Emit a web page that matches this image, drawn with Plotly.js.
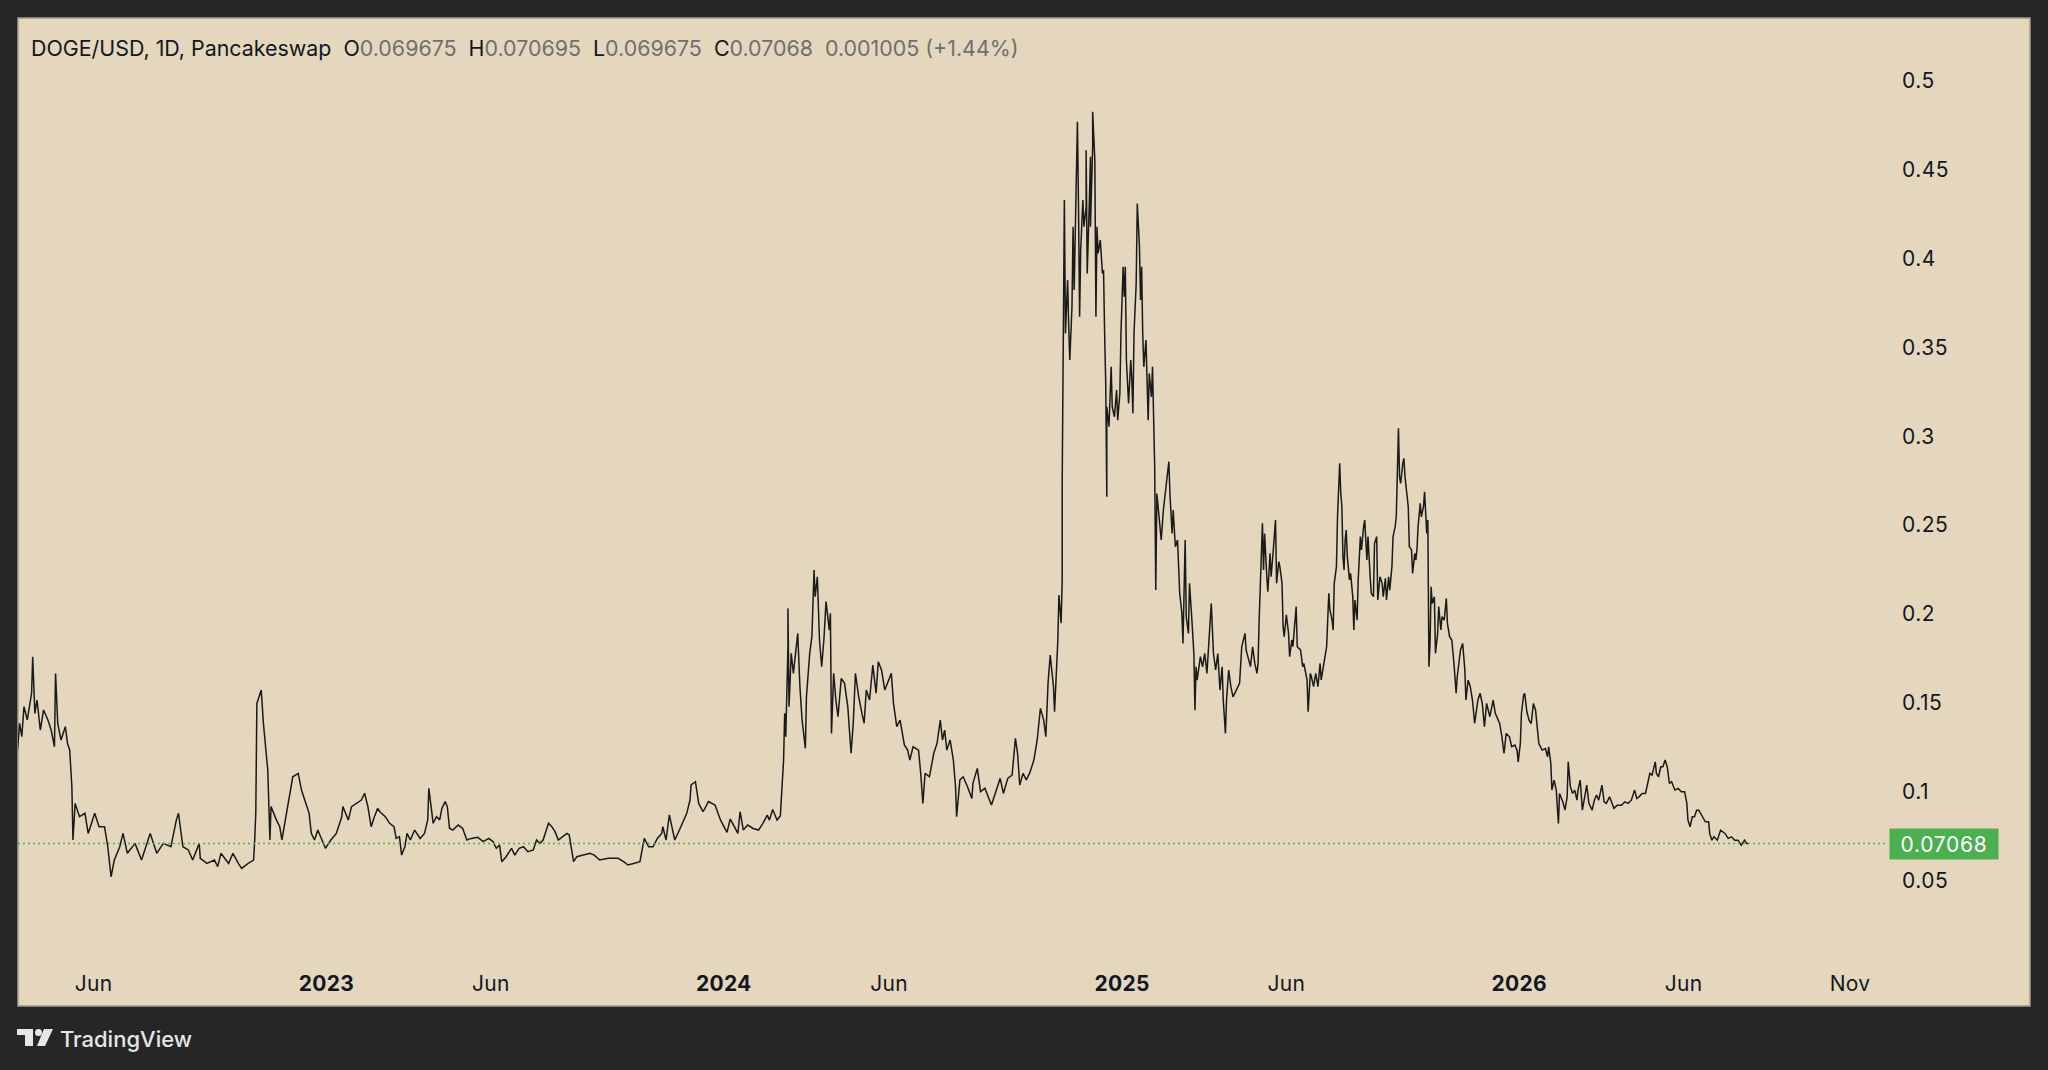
<!DOCTYPE html>
<html>
<head>
<meta charset="utf-8">
<script src="https://cdn.plot.ly/plotly-3.0.1.min.js"></script>
<style>
  html, body { margin: 0; padding: 0; background: #262626; }
  #chart { width: 2048px; height: 1070px; }
  #chart .ytick text { letter-spacing: 0.5px; }
  #chart .xtick text { letter-spacing: 0.3px; }
  #chart g.annotation[data-index="1"] text { letter-spacing: 0.7px; }
</style>
</head>
<body>
<div id="chart"></div>
<script>
// ---- Header text ----
const symbolText = "DOGE/USD, 1D, Pancakeswap";
const ohlcLabels = ["O", "H", "L", "C"];
const ohlcValues = ["0.069675", "0.070695", "0.069675", "0.07068"];
const changeText = "0.001005 (+1.44%)";

// ---- Price path: [date, price] ----
const doge2022 = [
 ["2022-03-23",0.1234],["2022-03-25",0.1384],["2022-03-27",0.1309],["2022-03-29",0.1478],["2022-04-01",0.1403],
 ["2022-04-05",0.1553],["2022-04-06",0.1759],["2022-04-08",0.1440],["2022-04-10",0.1515],["2022-04-13",0.1346],
 ["2022-04-16",0.1459],["2022-04-20",0.1403],["2022-04-23",0.1346],["2022-04-26",0.1252],["2022-04-27",0.1665],
 ["2022-04-29",0.1384],["2022-05-02",0.1290],["2022-05-06",0.1365],["2022-05-08",0.1271],["2022-05-10",0.1234],
 ["2022-05-12",0.1027],["2022-05-13",0.0727],["2022-05-15",0.0933],["2022-05-19",0.0858],["2022-05-24",0.0877],
 ["2022-05-27",0.0764],["2022-06-02",0.0877],["2022-06-06",0.0802],["2022-06-11",0.0802],["2022-06-14",0.0689],
 ["2022-06-17",0.0520],["2022-06-20",0.0614],["2022-06-25",0.0689],["2022-06-28",0.0764],["2022-07-02",0.0652],
 ["2022-07-09",0.0708],["2022-07-15",0.0614],["2022-07-19",0.0689],["2022-07-23",0.0764],["2022-07-29",0.0652],
 ["2022-08-04",0.0708],["2022-08-11",0.0689],["2022-08-16",0.0839],["2022-08-18",0.0877],["2022-08-22",0.0689],
 ["2022-08-27",0.0671],["2022-08-31",0.0614],["2022-09-06",0.0708],["2022-09-07",0.0624],["2022-09-13",0.0595],
 ["2022-09-20",0.0614],["2022-09-23",0.0577],["2022-09-26",0.0652],["2022-10-03",0.0595],["2022-10-07",0.0652],
 ["2022-10-12",0.0595],["2022-10-15",0.0567],["2022-10-21",0.0595],["2022-10-26",0.0614],["2022-10-27",0.0727],
 ["2022-10-28",0.0877],["2022-10-29",0.1496],["2022-11-02",0.1571],["2022-11-04",0.1384],["2022-11-06",0.1252],
 ["2022-11-08",0.1121],["2022-11-10",0.0727],["2022-11-11",0.0915],["2022-11-16",0.0839],["2022-11-19",0.0802],
 ["2022-11-21",0.0727],["2022-11-25",0.0877],["2022-11-28",0.0971],["2022-12-01",0.1083],["2022-12-06",0.1102],
 ["2022-12-09",0.1008],["2022-12-12",0.0952],["2022-12-16",0.0877],["2022-12-18",0.0764],["2022-12-21",0.0727],
 ["2022-12-24",0.0783],["2022-12-29",0.0708],["2022-12-31",0.0680]
];
const doge2023 = [
 ["2023-01-05",0.0727],["2023-01-10",0.0764],["2023-01-15",0.0858],["2023-01-16",0.0915],["2023-01-21",0.0839],
 ["2023-01-24",0.0915],["2023-02-02",0.0952],["2023-02-05",0.0990],["2023-02-08",0.0915],["2023-02-11",0.0802],
 ["2023-02-14",0.0858],["2023-02-17",0.0905],["2023-02-19",0.0886],["2023-02-24",0.0858],["2023-02-28",0.0821],
 ["2023-03-04",0.0802],["2023-03-06",0.0736],["2023-03-09",0.0746],["2023-03-11",0.0642],["2023-03-14",0.0689],
 ["2023-03-16",0.0764],["2023-03-19",0.0727],["2023-03-23",0.0783],["2023-03-28",0.0736],["2023-04-01",0.0764],
 ["2023-04-04",0.0840],["2023-04-05",0.1018],["2023-04-07",0.0933],["2023-04-09",0.0821],["2023-04-12",0.0858],
 ["2023-04-15",0.0840],["2023-04-17",0.0905],["2023-04-20",0.0943],["2023-04-22",0.0915],["2023-04-24",0.0793],
 ["2023-04-27",0.0783],["2023-05-02",0.0811],["2023-05-06",0.0793],["2023-05-10",0.0727],["2023-05-14",0.0736],
 ["2023-05-20",0.0742],["2023-05-25",0.0718],["2023-05-30",0.0736],["2023-06-03",0.0718],["2023-06-06",0.0680],
 ["2023-06-09",0.0699],["2023-06-11",0.0605],["2023-06-15",0.0633],["2023-06-20",0.0680],["2023-06-23",0.0642],
 ["2023-06-27",0.0680],["2023-07-01",0.0689],["2023-07-05",0.0661],["2023-07-10",0.0671],["2023-07-13",0.0727],
 ["2023-07-16",0.0708],["2023-07-19",0.0727],["2023-07-24",0.0821],["2023-07-27",0.0802],["2023-07-30",0.0774],
 ["2023-08-02",0.0727],["2023-08-06",0.0746],["2023-08-10",0.0764],["2023-08-12",0.0755],["2023-08-15",0.0652],
 ["2023-08-16",0.0605],["2023-08-19",0.0633],["2023-08-26",0.0642],["2023-08-31",0.0652],["2023-09-04",0.0642],
 ["2023-09-09",0.0614],["2023-09-17",0.0624],["2023-09-26",0.0624],["2023-10-01",0.0605],["2023-10-05",0.0586],
 ["2023-10-11",0.0596],["2023-10-16",0.0605],["2023-10-18",0.0671],["2023-10-20",0.0736],["2023-10-24",0.0689],
 ["2023-10-28",0.0689],["2023-11-01",0.0736],["2023-11-05",0.0764],["2023-11-06",0.0802],["2023-11-09",0.0727],
 ["2023-11-12",0.0868],["2023-11-15",0.0783],["2023-11-17",0.0727],["2023-11-22",0.0793],["2023-11-28",0.0877],
 ["2023-12-01",0.0952],["2023-12-02",0.1037],["2023-12-06",0.1055],["2023-12-09",0.0933],["2023-12-13",0.0886],
 ["2023-12-18",0.0943],["2023-12-24",0.0924],["2023-12-29",0.0840]
];
const doge2024 = [
 ["2024-01-04",0.0770],["2024-01-07",0.0845],["2024-01-10",0.0811],["2024-01-14",0.0764],["2024-01-16",0.0886],
 ["2024-01-19",0.0783],["2024-01-23",0.0811],["2024-01-28",0.0792],["2024-02-02",0.0783],["2024-02-06",0.0820],
 ["2024-02-10",0.0867],["2024-02-12",0.0839],["2024-02-15",0.0899],["2024-02-19",0.0839],["2024-02-22",0.0862],
 ["2024-02-23",0.0989],["2024-02-25",0.1177],["2024-02-26",0.1440],["2024-02-27",0.1309],["2024-02-29",0.1815],
 ["2024-02-29",0.2031],["2024-03-01",0.1477],["2024-03-03",0.1778],["2024-03-05",0.1665],["2024-03-07",0.1797],
 ["2024-03-09",0.1890],["2024-03-11",0.1590],["2024-03-13",0.1402],["2024-03-16",0.1243],["2024-03-17",0.1534],
 ["2024-03-20",0.1778],["2024-03-22",0.1872],["2024-03-24",0.2247],["2024-03-25",0.2097],["2024-03-27",0.2209],
 ["2024-03-29",0.1853],["2024-03-31",0.1703],["2024-04-02",0.1853],["2024-04-04",0.2069],["2024-04-07",0.1909],
 ["2024-04-08",0.2003],["2024-04-09",0.1327],["2024-04-11",0.1665],["2024-04-13",0.1515],["2024-04-15",0.1421],
 ["2024-04-18",0.1637],["2024-04-21",0.1609],["2024-04-24",0.1477],["2024-04-27",0.1215],["2024-04-29",0.1384],
 ["2024-05-01",0.1665],["2024-05-04",0.1534],["2024-05-07",0.1440],["2024-05-09",0.1384],["2024-05-11",0.1571],
 ["2024-05-14",0.1515],["2024-05-17",0.1712],["2024-05-20",0.1553],["2024-05-22",0.1731],["2024-05-25",0.1684],
 ["2024-05-28",0.1571],["2024-06-01",0.1628],["2024-06-03",0.1665],["2024-06-05",0.1496],["2024-06-08",0.1365],
 ["2024-06-11",0.1402],["2024-06-15",0.1262],["2024-06-18",0.1233],["2024-06-20",0.1177],["2024-06-23",0.1252],
 ["2024-06-28",0.1233],["2024-06-30",0.1102],["2024-07-02",0.0933],["2024-07-04",0.1102],["2024-07-08",0.1083],
 ["2024-07-12",0.1215],["2024-07-15",0.1271],["2024-07-18",0.1402],["2024-07-20",0.1290],["2024-07-22",0.1346],
 ["2024-07-24",0.1233],["2024-07-27",0.1290],["2024-07-30",0.1177],["2024-08-01",0.1027],["2024-08-02",0.0858],
 ["2024-08-05",0.1065],["2024-08-08",0.1083],["2024-08-12",0.1027],["2024-08-16",0.0961],["2024-08-17",0.1046],
 ["2024-08-21",0.1130],["2024-08-24",0.0999],["2024-08-28",0.1018],["2024-08-31",0.0971],["2024-09-03",0.0924],
 ["2024-09-07",0.0999],["2024-09-11",0.1074],["2024-09-14",0.0989],["2024-09-18",0.1074],["2024-09-22",0.1093],
 ["2024-09-25",0.1299],["2024-09-27",0.1215],["2024-09-29",0.1036],["2024-10-02",0.1102],["2024-10-05",0.1065],
 ["2024-10-08",0.1102],["2024-10-12",0.1177],["2024-10-15",0.1290],["2024-10-18",0.1468],["2024-10-21",0.1402],
 ["2024-10-23",0.1309],["2024-10-25",0.1609],["2024-10-27",0.1768],["2024-10-30",0.1590],["2024-10-31",0.1449],
 ["2024-11-03",0.1853],["2024-11-04",0.2106],["2024-11-06",0.1947],["2024-11-07",0.2191],["2024-11-07",0.2735],
 ["2024-11-08",0.3466],["2024-11-09",0.4330],["2024-11-10",0.3579],["2024-11-12",0.3879],["2024-11-13",0.3617],
 ["2024-11-14",0.3429],["2024-11-16",0.3729],["2024-11-17",0.4180],["2024-11-18",0.3823],["2024-11-19",0.4142],
 ["2024-11-21",0.4771],["2024-11-22",0.4292],["2024-11-23",0.3673],["2024-11-24",0.4048],["2024-11-26",0.4330],
 ["2024-11-27",0.4180],["2024-11-29",0.4292],["2024-11-29",0.4611],["2024-11-30",0.3917],["2024-12-02",0.4330],
 ["2024-12-03",0.4574],["2024-12-03",0.4180],["2024-12-05",0.4630],["2024-12-05",0.4827],["2024-12-07",0.4555],
 ["2024-12-08",0.3673],["2024-12-09",0.4180],["2024-12-10",0.4030],["2024-12-12",0.4105],["2024-12-14",0.3917],
 ["2024-12-15",0.3936],["2024-12-16",0.3579],["2024-12-17",0.3298],["2024-12-18",0.2659],["2024-12-18",0.3166],
 ["2024-12-20",0.3054],["2024-12-22",0.3391],["2024-12-23",0.3166],["2024-12-25",0.3110],["2024-12-27",0.3260],
 ["2024-12-28",0.3091],["2024-12-30",0.3241],["2024-12-31",0.3579]
];
const doge2025 = [
 ["2025-01-02",0.3955],["2025-01-03",0.3786],["2025-01-04",0.3955],["2025-01-05",0.3429],["2025-01-07",0.3185],
 ["2025-01-09",0.3429],["2025-01-10",0.3316],["2025-01-11",0.3129],["2025-01-12",0.3579],["2025-01-14",0.3861],
 ["2025-01-15",0.4311],["2025-01-17",0.4067],["2025-01-18",0.3767],["2025-01-19",0.3955],["2025-01-20",0.3579],
 ["2025-01-21",0.3391],["2025-01-23",0.3542],["2025-01-25",0.3091],["2025-01-26",0.3354],["2025-01-28",0.3222],
 ["2025-01-29",0.3391],["2025-01-30",0.3091],["2025-01-31",0.2828],["2025-02-01",0.2134],["2025-02-02",0.2678],
 ["2025-02-04",0.2547],["2025-02-06",0.2416],["2025-02-08",0.2585],["2025-02-10",0.2697],["2025-02-13",0.2857],
 ["2025-02-14",0.2678],["2025-02-16",0.2453],["2025-02-17",0.2585],["2025-02-19",0.2378],["2025-02-21",0.2416],
 ["2025-02-23",0.2115],["2025-02-25",0.2003],["2025-02-26",0.1834],["2025-02-28",0.2416],["2025-03-01",0.1984],
 ["2025-03-03",0.1890],["2025-03-04",0.2172],["2025-03-06",0.1984],["2025-03-08",0.1777],["2025-03-09",0.1458],
 ["2025-03-10",0.1702],["2025-03-11",0.1627],["2025-03-14",0.1759],["2025-03-16",0.1702],["2025-03-18",0.1777],
 ["2025-03-20",0.1665],["2025-03-22",0.1834],["2025-03-23",0.1928],["2025-03-24",0.2059],["2025-03-26",0.1777],
 ["2025-03-28",0.1684],["2025-03-30",0.1777],["2025-04-01",0.1571],["2025-04-03",0.1702],["2025-04-04",0.1515],
 ["2025-04-06",0.1327],["2025-04-07",0.1515],["2025-04-09",0.1684],["2025-04-11",0.1590],["2025-04-13",0.1533],
 ["2025-04-16",0.1571],["2025-04-19",0.1609],["2025-04-21",0.1815],["2025-04-24",0.1890],["2025-04-25",0.1797],
 ["2025-04-29",0.1703],["2025-05-01",0.1815],["2025-05-03",0.1721],["2025-05-05",0.1665],["2025-05-06",0.1721],
 ["2025-05-07",0.1965],["2025-05-08",0.2134],["2025-05-09",0.2416],["2025-05-10",0.2510],["2025-05-11",0.2247],
 ["2025-05-12",0.2453],["2025-05-14",0.2209],["2025-05-15",0.2125],["2025-05-17",0.2341],["2025-05-18",0.2209],
 ["2025-05-20",0.2360],["2025-05-22",0.2529],["2025-05-23",0.2172],["2025-05-25",0.2294],["2025-05-26",0.2266],
 ["2025-05-28",0.2172],["2025-05-29",0.1928],["2025-05-30",0.1872],["2025-06-01",0.1994],["2025-06-03",0.1890],
 ["2025-06-04",0.1759],["2025-06-06",0.1853],["2025-06-07",0.1815],["2025-06-10",0.2041],["2025-06-11",0.1815],
 ["2025-06-14",0.1797],["2025-06-16",0.1703],["2025-06-17",0.1721],["2025-06-20",0.1628],["2025-06-21",0.1449],
 ["2025-06-23",0.1665],["2025-06-24",0.1646],["2025-06-26",0.1590],["2025-06-28",0.1665],["2025-06-30",0.1590],
 ["2025-07-02",0.1721],["2025-07-03",0.1628],["2025-07-06",0.1740],["2025-07-08",0.1815],["2025-07-10",0.2116],
 ["2025-07-11",0.2022],["2025-07-13",0.1965],["2025-07-14",0.1909],["2025-07-15",0.2172],["2025-07-17",0.2266],
 ["2025-07-18",0.2547],["2025-07-19",0.2754],["2025-07-20",0.2848],["2025-07-21",0.2679],["2025-07-22",0.2604],
 ["2025-07-23",0.2322],["2025-07-24",0.2247],["2025-07-25",0.2416],["2025-07-26",0.2472],["2025-07-27",0.2322],
 ["2025-07-29",0.2191],["2025-07-30",0.2228],["2025-08-01",0.2097],["2025-08-02",0.1909],["2025-08-03",0.2078],
 ["2025-08-05",0.1965],["2025-08-06",0.2191],["2025-08-08",0.2435],["2025-08-09",0.2360],["2025-08-11",0.2491],
 ["2025-08-12",0.2529],["2025-08-14",0.2303],["2025-08-15",0.2435],["2025-08-17",0.2209],["2025-08-18",0.2116],
 ["2025-08-20",0.2097],["2025-08-21",0.2397],["2025-08-23",0.2435],["2025-08-24",0.2078],["2025-08-26",0.2209],
 ["2025-08-28",0.2172],["2025-08-29",0.2097],["2025-08-31",0.2200],["2025-09-01",0.2078],["2025-09-03",0.2209],
 ["2025-09-04",0.2134],["2025-09-06",0.2266],["2025-09-07",0.2435],["2025-09-09",0.2491],["2025-09-10",0.2547],
 ["2025-09-11",0.2735],["2025-09-12",0.3045],["2025-09-13",0.2773],["2025-09-14",0.2735],["2025-09-16",0.2848],
 ["2025-09-17",0.2876],["2025-09-18",0.2773],["2025-09-20",0.2641],["2025-09-21",0.2604],["2025-09-22",0.2378],
 ["2025-09-24",0.2360],["2025-09-25",0.2228],["2025-09-27",0.2341],["2025-09-28",0.2303],["2025-09-29",0.2360],
 ["2025-09-30",0.2491],["2025-10-02",0.2622],["2025-10-03",0.2547],["2025-10-05",0.2604],["2025-10-06",0.2688],
 ["2025-10-08",0.2453],["2025-10-09",0.2529],["2025-10-10",0.1703],["2025-10-11",0.1834],["2025-10-12",0.2153],
 ["2025-10-13",0.2059],["2025-10-15",0.2097],["2025-10-16",0.1778],["2025-10-18",0.1890],["2025-10-19",0.2041],
 ["2025-10-21",0.1909],["2025-10-22",0.1984],["2025-10-24",0.1965],["2025-10-26",0.2087],["2025-10-27",0.1947],
 ["2025-10-29",0.1872],["2025-10-31",0.1853],["2025-11-02",0.1721],["2025-11-04",0.1553],["2025-11-05",0.1646],
 ["2025-11-08",0.1797],["2025-11-10",0.1834],["2025-11-12",0.1684],["2025-11-13",0.1515],["2025-11-15",0.1628],
 ["2025-11-17",0.1590],["2025-11-19",0.1515],["2025-11-21",0.1384],["2025-11-24",0.1515],["2025-11-26",0.1553],
 ["2025-11-28",0.1496],["2025-11-30",0.1365],["2025-12-02",0.1496],["2025-12-05",0.1421],["2025-12-08",0.1515],
 ["2025-12-10",0.1440],["2025-12-13",0.1400],["2025-12-14",0.1383],["2025-12-16",0.1310],["2025-12-18",0.1214],
 ["2025-12-20",0.1327],["2025-12-23",0.1308],["2025-12-25",0.1252],["2025-12-28",0.1261],["2025-12-30",0.1233],
 ["2025-12-31",0.1167]
];
const doge2026 = [
 ["2026-01-02",0.1270],["2026-01-03",0.1439],["2026-01-05",0.1543],["2026-01-06",0.1552],["2026-01-08",0.1449],
 ["2026-01-10",0.1402],["2026-01-12",0.1383],["2026-01-14",0.1496],["2026-01-16",0.1458],["2026-01-17",0.1383],
 ["2026-01-19",0.1270],["2026-01-22",0.1233],["2026-01-25",0.1242],["2026-01-27",0.1195],["2026-01-28",0.1252],
 ["2026-01-30",0.1158],["2026-01-31",0.1008],["2026-02-02",0.1064],["2026-02-04",0.1008],["2026-02-06",0.0820],
 ["2026-02-07",0.0989],["2026-02-10",0.0942],["2026-02-12",0.0895],["2026-02-14",0.0970],["2026-02-15",0.1167],
 ["2026-02-17",0.1027],["2026-02-19",0.0989],["2026-02-21",0.1008],["2026-02-23",0.0951],["2026-02-24",0.1008],
 ["2026-02-26",0.1064],["2026-02-28",0.0895],["2026-03-02",0.0970],["2026-03-04",0.1036],["2026-03-06",0.0933],
 ["2026-03-09",0.0895],["2026-03-11",0.0951],["2026-03-13",0.0980],["2026-03-15",0.0951],["2026-03-18",0.1036],
 ["2026-03-20",0.0942],["2026-03-22",0.0933],["2026-03-25",0.0970],["2026-03-29",0.0905],["2026-04-01",0.0923],
 ["2026-04-05",0.0923],["2026-04-08",0.0942],["2026-04-11",0.0933],["2026-04-14",0.0951],["2026-04-17",0.1008],
 ["2026-04-19",0.0961],["2026-04-21",0.0970],["2026-04-24",0.0989],["2026-04-27",0.0989],["2026-04-30",0.1073],
 ["2026-05-01",0.1102],["2026-05-03",0.1092],["2026-05-06",0.1167],["2026-05-07",0.1102],["2026-05-09",0.1083],
 ["2026-05-11",0.1139],["2026-05-13",0.1139],["2026-05-15",0.1177],["2026-05-17",0.1139],["2026-05-19",0.1045],
 ["2026-05-21",0.1055],["2026-05-24",0.1008],["2026-05-27",0.1017],["2026-05-30",0.0998],["2026-06-02",0.0998],
 ["2026-06-04",0.0933],["2026-06-05",0.0839],["2026-06-07",0.0801],["2026-06-09",0.0858],["2026-06-11",0.0858],
 ["2026-06-13",0.0895],["2026-06-15",0.0895],["2026-06-18",0.0858],["2026-06-21",0.0829],["2026-06-24",0.0829],
 ["2026-06-25",0.0764],["2026-06-27",0.0726],["2026-06-29",0.0745],["2026-07-02",0.0726],["2026-07-05",0.0782],
 ["2026-07-09",0.0764],["2026-07-12",0.0736],["2026-07-15",0.0745],["2026-07-18",0.0726],["2026-07-21",0.0726],
 ["2026-07-24",0.0698],["2026-07-27",0.0726],["2026-07-29",0.0707],["2026-07-31",0.07068]
];

// ---- Axis ticks ----
const xTickDates = ["2022-06-01","2023-01-01","2023-06-01","2024-01-01","2024-06-01","2025-01-01","2025-06-01","2026-01-01","2026-06-01","2026-11-01"];
const xTickLabels = ["Jun","<b>2023</b>","Jun","<b>2024</b>","Jun","<b>2025</b>","Jun","<b>2026</b>","Jun","Nov"];
const yTickValues = [0.05,0.1,0.15,0.2,0.25,0.3,0.35,0.4,0.45,0.5];
const yTickLabels = ["0.05","0.1","0.15","0.2","0.25","0.3","0.35","0.4","0.45","0.5"];

// ---- Build ----
const allPts = [].concat(doge2022, doge2023, doge2024, doge2025, doge2026);
const xs = allPts.map(p => p[0]);
const ys = allPts.map(p => p[1]);
const lastPrice = ys[ys.length - 1];

const W = 2048, H = 1070;
const M = {l: 18, r: 162, t: 18, b: 104};
const PW = W - M.l - M.r, PH = H - M.t - M.b;
const px = X => (X - M.l) / PW;
const py = Y => 1 - (Y - M.t) / PH;

const BG = "#e4d7bd";
const INK = "#131722";
const GREY = "#6f6f6f";
const FONT = "Inter, 'Noto Sans', sans-serif";

let header = `<span style="color:${INK}">${symbolText}\u00a0\u00a0</span>`;
ohlcLabels.forEach((lab, i) => {
  header += `<span style="color:${INK}">${lab}</span><span style="color:${GREY}">${ohlcValues[i]}\u00a0\u00a0</span>`;
});
header += `<span style="color:${GREY}">${changeText}</span>`;

const trace = {
  type: "scatter", mode: "lines", x: xs, y: ys,
  line: {color: "#1a1a1a", width: 1.5},
  hoverinfo: "skip", showlegend: false
};

const LOGO = "#e6e6e6";
const logoPath =
  `M ${px(17)} ${py(1029)} L ${px(33)} ${py(1029)} L ${px(33)} ${py(1046)} L ${px(25)} ${py(1046)} L ${px(25)} ${py(1035)} L ${px(17)} ${py(1035)} Z ` +
  `M ${px(44)} ${py(1029)} L ${px(53)} ${py(1029)} L ${px(45)} ${py(1046)} L ${px(37)} ${py(1046)} Z`;

const layout = {
  width: W, height: H,
  margin: {l: M.l, r: M.r, t: M.t, b: M.b, pad: 0},
  paper_bgcolor: "#262626",
  plot_bgcolor: BG,
  showlegend: false,
  xaxis: {
    type: "date",
    range: ["2022-03-23 12:00", "2026-12-04"],
    showgrid: false, zeroline: false, showline: false,
    tickmode: "array", tickvals: xTickDates, ticktext: xTickLabels,
    ticks: "", ticklabelstandoff: 3,
    tickfont: {family: FONT, size: 21, color: INK},
    fixedrange: true
  },
  yaxis: {
    side: "right",
    range: [0.00175, 0.5355],
    showgrid: false, zeroline: false, showline: false,
    tickmode: "array", tickvals: yTickValues, ticktext: yTickLabels,
    ticks: "", ticklabelstandoff: 15,
    tickfont: {family: FONT, size: 21, color: INK},
    fixedrange: true
  },
  shapes: [
    {type: "rect", xref: "paper", yref: "paper", layer: "below",
     x0: px(18), x1: px(2030), y0: py(1006), y1: py(18),
     fillcolor: BG, line: {color: "#a39d90", width: 1.5}},
    {type: "line", xref: "paper", yref: "y", x0: 0, x1: 1, y0: lastPrice, y1: lastPrice,
     line: {color: "#4caf50", width: 1.5, dash: "2px,3px"}},
    {type: "path", xref: "paper", yref: "paper", path: logoPath,
     fillcolor: LOGO, line: {width: 0}},
    {type: "circle", xref: "paper", yref: "paper",
     x0: px(35), x1: px(42), y0: py(1036), y1: py(1029),
     fillcolor: LOGO, line: {width: 0}}
  ],
  annotations: [
    {xref: "paper", yref: "paper", x: px(29), y: py(48), xanchor: "left", yanchor: "middle",
     text: header, showarrow: false, font: {family: FONT, size: 21.4, color: INK}},
    {xref: "paper", yref: "y", x: px(1889), y: lastPrice, xanchor: "left", yanchor: "middle",
     text: lastPrice.toFixed(5), showarrow: false, bgcolor: "#4caf50",
     width: 100, height: 22, borderpad: 4,
     font: {family: FONT, size: 21, color: "#ffffff"}},
    {xref: "paper", yref: "paper", x: px(58), y: py(1039), xanchor: "left", yanchor: "middle",
     text: "TradingView", showarrow: false,
     font: {family: FONT, size: 22, color: LOGO, weight: 500}}
  ]
};

Plotly.newPlot("chart", [trace], layout, {displayModeBar: false, staticPlot: true});
</script>
</body>
</html>
